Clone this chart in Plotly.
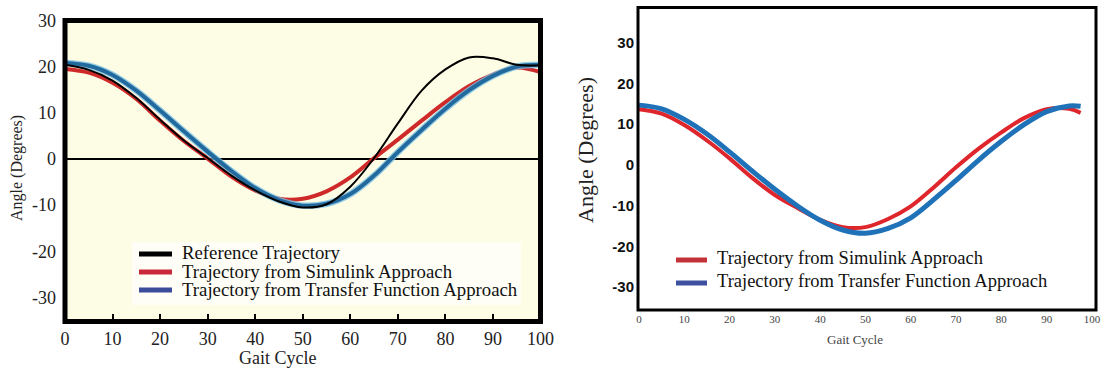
import plotly.graph_objects as go

# ---------------- data ----------------
gait_left = [0, 5, 10, 15, 20, 25, 30, 35, 40, 45, 50, 55, 60, 65, 70, 75, 80, 85, 90, 95, 100]
left_reference = [20.4, 19.3, 17.0, 13.2, 8.5, 4.0, 0.2, -3.6, -6.8, -9.2, -10.5, -9.8, -6.0, 0.2, 7.7, 14.8, 19.4, 22.0, 21.8, 20.4, 20.3]
left_simulink = [19.5, 18.7, 16.5, 13.0, 8.3, 3.9, 0.1, -3.8, -6.8, -8.6, -8.6, -7.0, -4.0, 0.2, 4.2, 8.3, 12.3, 15.8, 18.3, 19.8, 18.8]
left_transfer = [20.8, 20.2, 18.2, 14.8, 10.5, 6.0, 1.6, -2.6, -6.3, -8.9, -10.1, -9.7, -7.6, -3.6, 1.5, 6.3, 10.9, 14.9, 18.0, 20.0, 20.4]

gait_right = [0, 5, 10, 15, 20, 25, 30, 35, 40, 45, 50, 55, 60, 65, 70, 75, 80, 85, 90, 95, 97.5]
right_simulink = [13.7, 12.6, 9.8, 6.0, 1.6, -3.2, -7.4, -10.6, -13.5, -15.3, -15.3, -13.3, -10.2, -5.6, -0.6, 4.0, 8.0, 11.5, 13.7, 13.8, 12.8]
right_transfer = [14.7, 13.8, 11.2, 7.6, 3.2, -1.5, -6.0, -10.1, -13.6, -16.0, -16.8, -15.6, -13.0, -8.6, -3.8, 1.2, 5.8, 9.9, 13.1, 14.5, 14.4]

x_ticks = [0, 10, 20, 30, 40, 50, 60, 70, 80, 90, 100]
y_ticks = [30, 20, 10, 0, -10, -20, -30]
y_tick_labels = ["30", "20", "10", "0", "-10", "-20", "-30"]

left_legend_names = ["Reference Trajectory", "Trajectory from Simulink Approach",
                     "Trajectory from Transfer Function Approach"]
right_legend_names = ["Trajectory from Simulink Approach", "Trajectory from Transfer Function Approach"]
x_title = "Gait Cycle"
y_title = "Angle (Degrees)"

# ---------------- style ----------------
W, H = 1104, 369
def px(x):
    return x / W
def py(y):
    return 1 - y / H

SERIF = "Liberation Serif"
SANS = "Liberation Sans"
left_curve_colors = ["#000000", "#cf2a2a", "#22699e"]
left_halo_color = "rgba(120,190,225,0.8)"
left_legend_colors = ["#000000", "#c8283a", "#3b4c9b"]
right_curve_colors = ["#de262c", "#1f72b8"]
right_legend_colors = ["#c23238", "#3e50a0"]

fig = go.Figure()

# left panel: simulink, transfer (with light halo), reference on top
fig.add_trace(go.Scatter(x=gait_left, y=left_simulink, mode="lines", line=dict(color=left_curve_colors[1], width=4, shape="spline"),
                         showlegend=False, xaxis="x", yaxis="y"))
fig.add_trace(go.Scatter(x=gait_left, y=left_transfer, mode="lines", line=dict(color=left_halo_color, width=6.5, shape="spline"),
                         showlegend=False, xaxis="x", yaxis="y", hoverinfo="skip"))
fig.add_trace(go.Scatter(x=gait_left, y=left_transfer, mode="lines", line=dict(color=left_curve_colors[2], width=4, shape="spline"),
                         showlegend=False, xaxis="x", yaxis="y"))
fig.add_trace(go.Scatter(x=gait_left, y=left_reference, mode="lines", line=dict(color=left_curve_colors[0], width=2, shape="spline"),
                         showlegend=False, xaxis="x", yaxis="y"))

# right panel
fig.add_trace(go.Scatter(x=gait_right, y=right_simulink, mode="lines", line=dict(color=right_curve_colors[0], width=4, shape="spline"),
                         showlegend=False, xaxis="x2", yaxis="y2"))
fig.add_trace(go.Scatter(x=gait_right, y=right_transfer, mode="lines", line=dict(color=right_curve_colors[1], width=5, shape="spline"),
                         showlegend=False, xaxis="x2", yaxis="y2"))

shapes = []
# left background and legend box
shapes.append(dict(type="rect", xref="x domain", yref="y domain", x0=0, x1=1, y0=0, y1=1,
                   fillcolor="#fdfde6", line=dict(width=0), layer="below"))
shapes.append(dict(type="rect", xref="paper", yref="paper", x0=px(132), x1=px(521), y0=py(305), y1=py(242),
                   fillcolor="#fefef6", line=dict(width=0), layer="below"))
# frames
shapes.append(dict(type="rect", xref="x domain", yref="y domain", x0=0, x1=1, y0=0, y1=1,
                   line=dict(color="black", width=5), layer="above"))
shapes.append(dict(type="rect", xref="x2 domain", yref="y2 domain", x0=0, x1=1, y0=0, y1=1,
                   line=dict(color="black", width=3), layer="above"))

annotations = []
# left legend
left_rows = [254, 272, 290]
for name, col, yy in zip(left_legend_names, left_legend_colors, left_rows):
    shapes.append(dict(type="line", xref="paper", yref="paper", x0=px(139), x1=px(172), y0=py(yy), y1=py(yy),
                       line=dict(color=col, width=5)))
    annotations.append(dict(text=name, x=px(180), y=py(yy - 1), xref="paper", yref="paper", xanchor="left", yanchor="middle",
                            showarrow=False, font=dict(family=SERIF, size=18.8, color="#111")))
# right legend
right_rows = [260, 283]
for name, col, yy in zip(right_legend_names, right_legend_colors, right_rows):
    shapes.append(dict(type="line", xref="paper", yref="paper", x0=px(676), x1=px(707), y0=py(yy), y1=py(yy),
                       line=dict(color=col, width=5)))
    annotations.append(dict(text=name, x=px(715), y=py(yy - 2), xref="paper", yref="paper", xanchor="left", yanchor="middle",
                            showarrow=False, font=dict(family=SERIF, size=18.5, color="#111")))

# axis titles
annotations.append(dict(text=y_title, x=px(17), y=py(168), xref="paper", yref="paper", textangle=-90, showarrow=False,
                        xanchor="center", yanchor="middle", font=dict(family=SERIF, size=16, color="#222")))
annotations.append(dict(text=x_title, x=px(277), y=py(358), xref="paper", yref="paper", showarrow=False,
                        xanchor="center", yanchor="middle", font=dict(family=SERIF, size=18, color="#222")))
annotations.append(dict(text=y_title, x=px(585), y=py(150), xref="paper", yref="paper", textangle=-90, showarrow=False,
                        xanchor="center", yanchor="middle", font=dict(family=SERIF, size=22, color="#222")))
annotations.append(dict(text=x_title, x=px(855), y=py(339), xref="paper", yref="paper", showarrow=False,
                        xanchor="center", yanchor="middle", font=dict(family=SERIF, size=13, color="#444")))

fig.update_layout(
    width=W, height=H, margin=dict(l=0, r=0, t=0, b=0, autoexpand=False),
    paper_bgcolor="white", plot_bgcolor="white", showlegend=False,
    xaxis=dict(domain=[px(65), px(540.5)], range=[0, 100], anchor="y", tickvals=x_ticks, automargin=False,
               ticks="inside", ticklen=8, tickwidth=1.5, tickcolor="black",
               showgrid=False, zeroline=False, showline=False, ticklabelstandoff=4,
               tickfont=dict(family=SERIF, size=18, color="#222")),
    yaxis=dict(domain=[py(321.5), py(20.5)], range=[-35.2, 30.0], anchor="x", tickvals=y_ticks, ticktext=y_tick_labels,
               automargin=False, ticks="", showgrid=False, zeroline=True, zerolinecolor="black", zerolinewidth=2,
               showline=False, ticklabelstandoff=8,
               tickfont=dict(family=SERIF, size=18, color="#222")),
    xaxis2=dict(domain=[px(638), px(1096)], range=[-0.22, 100.9], anchor="y2", tickvals=x_ticks, automargin=False,
                ticks="", showgrid=False, zeroline=False, showline=False, ticklabelstandoff=1,
                tickfont=dict(family=SERIF, size=11, color="#444")),
    yaxis2=dict(domain=[py(310), py(7.5)], range=[-35.67, 38.7], anchor="x2", tickvals=y_ticks, ticktext=y_tick_labels,
                automargin=False, ticks="", showgrid=False, zeroline=False, showline=False, ticklabelstandoff=3,
                tickfont=dict(family=SANS, size=15, color="#111", weight="bold")),
    shapes=shapes, annotations=annotations,
)

fig.write_html("out.html")
